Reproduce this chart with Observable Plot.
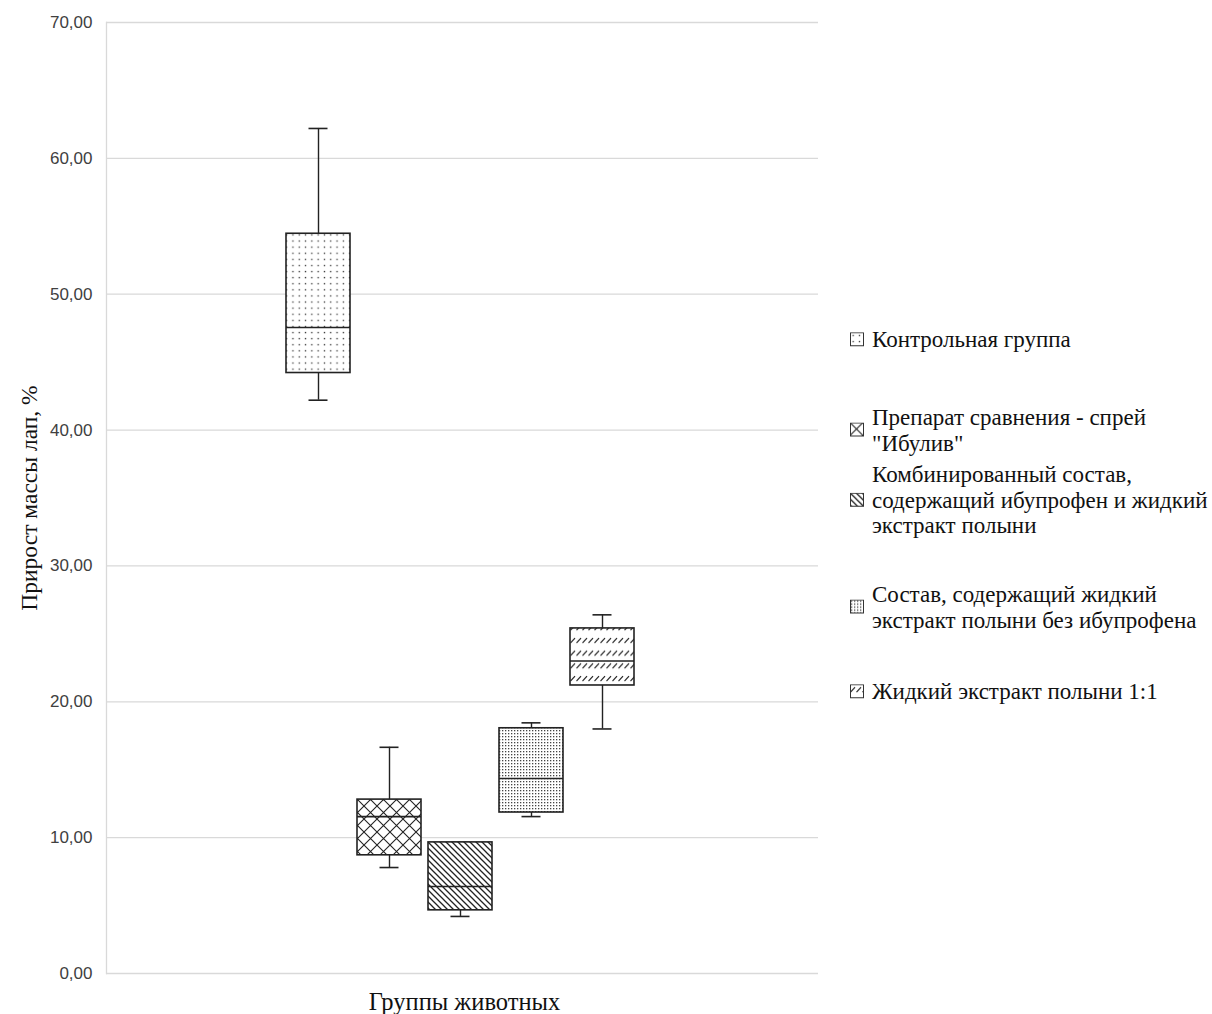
<!DOCTYPE html>
<html>
<head>
<meta charset="utf-8">
<script src="https://cdn.jsdelivr.net/npm/d3@7"></script>
<script src="https://cdn.jsdelivr.net/npm/@observablehq/plot@0.6"></script>
<style>
  html, body { margin: 0; padding: 0; background: #fff; }
  #wrap { position: relative; width: 1212px; height: 1014px; overflow: hidden; }
  #legend { position: absolute; left: 0; top: 0; width: 1212px; }
  .item { position: absolute; left: 850px; display: flex; align-items: center; transform: translateY(-50%);
          font-family: "Liberation Serif", "Times New Roman", serif; font-size: 23px; line-height: 25.5px; color: #111; white-space: nowrap; }
  .item svg { margin-right: 7px; flex: none; }
</style>
</head>
<body>
<div id="wrap"><div id="chart"></div><div id="legend"></div></div>
<script>
const groups = [
  "Контрольная группа",
  "Препарат сравнения - спрей \"Ибулив\"",
  "Комбинированный состав, содержащий ибупрофен и жидкий экстракт полыни",
  "Состав, содержащий жидкий экстракт полыни без ибупрофена",
  "Жидкий экстракт полыни 1:1"
];
const legendLines = [
  ["Контрольная группа"],
  ["Препарат сравнения - спрей", "\"Ибулив\""],
  ["Комбинированный состав,", "содержащий ибупрофен и жидкий", "экстракт полыни"],
  ["Состав, содержащий жидкий", "экстракт полыни без ибупрофена"],
  ["Жидкий экстракт полыни 1:1"]
];
const mins    = [42.2, 7.8, 4.2, 11.55, 18.0];
const q1s     = [44.2, 8.7, 4.65, 11.85, 21.2];
const medians = [47.55, 11.55, 6.4, 14.35, 23.0];
const q3s     = [54.45, 12.8, 9.65, 18.05, 25.4];
const maxs    = [62.2, 16.65, 9.65, 18.45, 26.4];
const yTicks  = [0, 10, 20, 30, 40, 50, 60, 70];
const patternIds = ["pDots", "pCross", "pDiag", "pFine", "pDash"];
const yTitle = "Прирост массы лап, %";
const xTitle = "Группы животных";

const data = groups.map((g, i) => ({
  name: g, min: mins[i], q1: q1s[i], median: medians[i], q3: q3s[i], max: maxs[i],
  fill: `url(#${patternIds[i]})`
}));

const fmt = d => d3.format(".2f")(d).replace(".", ",");
const serif = "Liberation Serif, Times New Roman, serif";

const chart = Plot.plot({
  width: 840,
  height: 1014,
  marginTop: 22,
  marginBottom: 41,
  marginLeft: 106,
  marginRight: 22,
  style: { fontFamily: "Liberation Sans, Arial, sans-serif", fontSize: "17px", background: "#fff" },
  x: { type: "band", domain: groups, range: [280.4, 640.6], paddingInner: 0.097, paddingOuter: 0.05, axis: null },
  y: { domain: [0, 70], ticks: yTicks, tickFormat: fmt, label: null },
  color: { type: "identity" },
  marks: [
    Plot.gridY(yTicks, { stroke: "#d9d9d9", strokeOpacity: 1, strokeWidth: 1.3 }),
    Plot.frame({ anchor: "left", stroke: "#d9d9d9", strokeWidth: 1.3 }),
    Plot.axisY(yTicks, { tickSize: 0, tickPadding: 14, tickFormat: fmt, fill: "#404040", fontSize: 17, label: null }),
    Plot.ruleX(data, { x: "name", y1: "min", y2: "q1", stroke: "#222", strokeWidth: 1.4 }),
    Plot.ruleX(data, { x: "name", y1: "q3", y2: "max", stroke: "#222", strokeWidth: 1.4 }),
    Plot.tickY(data, { x: "name", y: "max", insetLeft: 22.5, insetRight: 22.5, stroke: "#222", strokeWidth: 1.6 }),
    Plot.tickY(data, { x: "name", y: "min", insetLeft: 22.5, insetRight: 22.5, stroke: "#222", strokeWidth: 1.6 }),
    Plot.rect(data, { x: "name", y1: "q1", y2: "q3", fill: "fill", stroke: "#222", strokeWidth: 1.6 }),
    Plot.tickY(data, { x: "name", y: "median", stroke: "#222", strokeWidth: 1.6 }),
    Plot.text([yTitle], { text: d => d, frameAnchor: "left", dx: -77, textAnchor: "middle", lineAnchor: "middle", rotate: -90, fontFamily: serif, fontSize: 23.5, fill: "#111" }),
    Plot.text([xTitle], { text: d => d, frameAnchor: "bottom", dy: 29, dx: 2, textAnchor: "middle", lineAnchor: "middle", fontFamily: serif, fontSize: 24.5, fill: "#111" })
  ]
});

// patterns
const defs = d3.select(chart).insert("defs", ":first-child");
let p = defs.append("pattern").attr("id", "pDots").attr("patternUnits", "userSpaceOnUse").attr("width", 6.3).attr("height", 6.1);
p.append("rect").attr("width", 6.3).attr("height", 6.1).attr("fill", "#fff");
p.append("rect").attr("x", 2.5).attr("y", 2.5).attr("width", 1.3).attr("height", 1.3).attr("fill", "#333");
p = defs.append("pattern").attr("id", "pCross").attr("patternUnits", "userSpaceOnUse").attr("width", 13).attr("height", 13);
p.append("rect").attr("width", 13).attr("height", 13).attr("fill", "#fff");
p.append("path").attr("d", "M0,0L13,13M13,0L0,13M-1,12L1,14M12,-1L14,1").attr("stroke", "#222").attr("stroke-width", 1.1);
p = defs.append("pattern").attr("id", "pDiag").attr("patternUnits", "userSpaceOnUse").attr("width", 6).attr("height", 6);
p.append("rect").attr("width", 6).attr("height", 6).attr("fill", "#fff");
p.append("path").attr("d", "M0,0L6,6M-3,3L3,9M3,-3L9,3").attr("stroke", "#222").attr("stroke-width", 1.3);
p = defs.append("pattern").attr("id", "pFine").attr("patternUnits", "userSpaceOnUse").attr("width", 3).attr("height", 3);
p.append("rect").attr("width", 3).attr("height", 3).attr("fill", "#fff");
p.append("rect").attr("x", 1).attr("y", 1).attr("width", 1.3).attr("height", 1.3).attr("fill", "#444");
p = defs.append("pattern").attr("id", "pDash").attr("patternUnits", "userSpaceOnUse").attr("width", 6).attr("height", 12.7);
p.append("rect").attr("width", 6).attr("height", 12.7).attr("fill", "#fff");
p.append("path").attr("d", "M0.5,8L5,3").attr("stroke", "#222").attr("stroke-width", 1.2);

document.getElementById("chart").appendChild(chart);

// legend
const legendCenters = [340, 430, 500, 607, 692];
const legend = d3.select("#legend");
legendLines.forEach((lines, i) => {
  const item = legend.append("div").attr("class", "item").style("top", legendCenters[i] + "px");
  const sw = item.append("svg").attr("width", 15).attr("height", 15);
  sw.append("rect").attr("x", 0.5).attr("y", 0.5).attr("width", 13).attr("height", 13)
    .attr("fill", `url(#${patternIds[i]})`).attr("stroke", "#333").attr("stroke-width", 1);
  item.append("div").html(lines.join("<br>"));
});
</script>
</body>
</html>
